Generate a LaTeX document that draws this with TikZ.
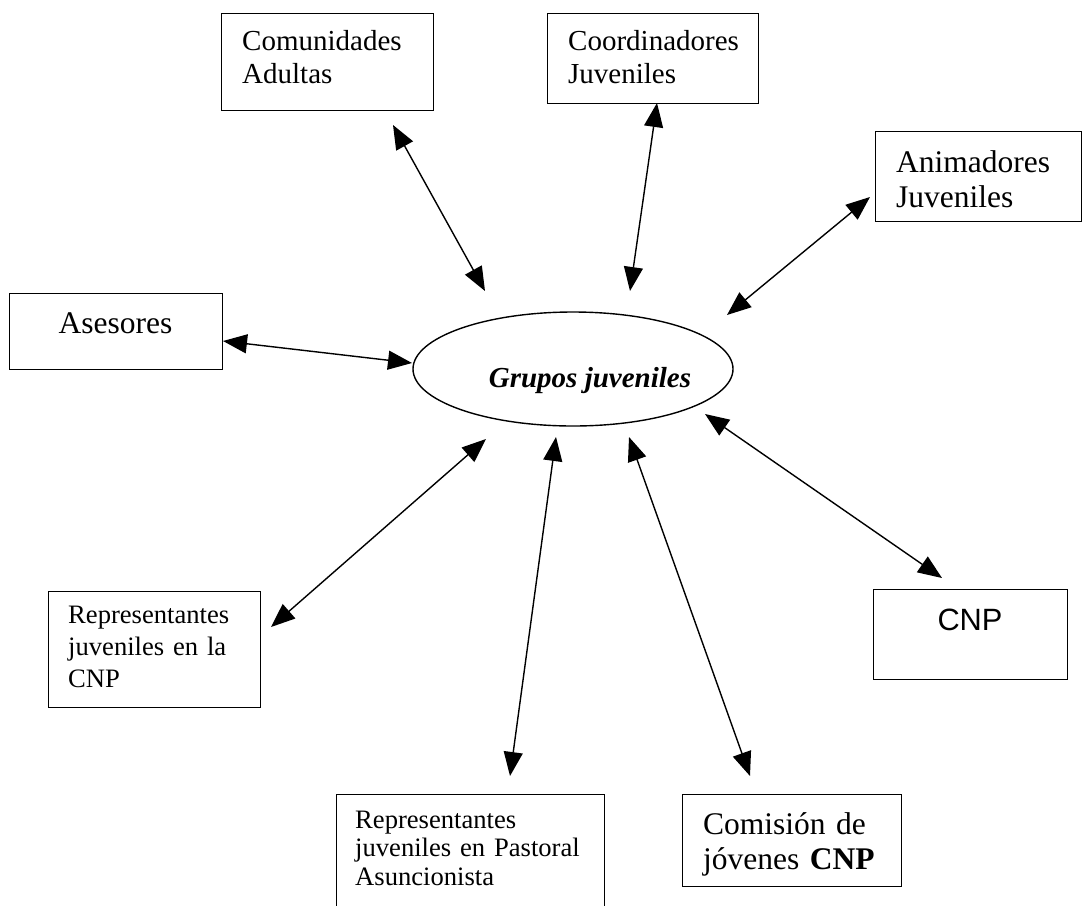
\documentclass[tikz,border=0pt]{standalone}
\usepackage{fontspec}
\setmainfont{Liberation Serif}
\newfontfamily\arialf{Liberation Sans}
\usetikzlibrary{arrows.meta,shapes.geometric}
\begin{document}
\begin{tikzpicture}[x=1pt,y=-1pt,
  boxnode/.style={draw,line width=1.4pt,rectangle,anchor=north west,inner sep=0pt},
  txt/.style={anchor=base west,inner sep=0pt,text width=#1,align=left},
  link/.style={line width=1.4pt,{Triangle[length=24pt,width=19pt]}-{Triangle[length=24pt,width=19pt]}},
  fa/.style={font=\fontsize{29}{33}\selectfont},
  fb/.style={font=\fontsize{31.5}{35.5}\selectfont},
  fc/.style={font=\fontsize{26.6}{32}\selectfont}]
\useasboundingbox (0,0) rectangle (1083,905);
% boxes
\node[boxnode,minimum width=212pt,minimum height=97pt] (com) at (221,13) {};
\node[txt=200pt,fa] (comt) at (242,50) {Comunidades\\Adultas};
\node[boxnode,minimum width=211pt,minimum height=90pt] (coo) at (547,13) {};
\node[txt=200pt,fa] (coot) at (568,50) {Coordinadores\\Juveniles};
\node[boxnode,minimum width=206pt,minimum height=90pt] (ani) at (875,131) {};
\node[txt=200pt,fb] (anit) at (896,172) {Animadores\\Juveniles};
\node[boxnode,minimum width=213pt,minimum height=76pt] (ase) at (9,293) {};
\node[anchor=base,inner sep=0pt,fb] (aset) at (115.5,333) {Asesores};
\node[draw,line width=1.4pt,ellipse,minimum width=320pt,minimum height=114pt,inner sep=0pt] (grp) at (573,369) {};
\node[anchor=base,inner sep=0pt,fa] (grpt) at (590,387) {\textbf{\textit{Grupos juveniles}}};
\node[boxnode,minimum width=212pt,minimum height=116pt] (rep) at (48,591) {};
\node[txt=200pt,fc] (rept) at (68,623) {Representantes\\juveniles en la\\CNP};
\node[boxnode,minimum width=194pt,minimum height=90pt] (cnp) at (873,589) {};
\node[anchor=base,inner sep=0pt,font=\arialf\fontsize{30.8}{35}\selectfont] (cnpt) at (970,630) {CNP};
\node[boxnode,minimum width=268pt,minimum height=140pt] (pas) at (336,794) {};
\node[txt=260pt,font=\fontsize{26.6}{28.5}\selectfont] (past) at (355,828) {Representantes\\juveniles en Pastoral\\Asuncionista};
\node[boxnode,minimum width=219pt,minimum height=92pt] (comi) at (682,794) {};
\node[txt=210pt,fb] (comit) at (703,834) {Comisión de\\jóvenes \textbf{CNP}};
% arrow end points
\coordinate (a1) at (393,125); \coordinate (b1) at (485,291);
\coordinate (a2) at (657,103); \coordinate (b2) at (630,291);
\coordinate (a3) at (870,197); \coordinate (b3) at (727,315);
\coordinate (a4) at (223,341); \coordinate (b4) at (412,363);
\coordinate (a5) at (271,627); \coordinate (b5) at (486,439);
\coordinate (a6) at (510,776); \coordinate (b6) at (556,437);
\coordinate (a7) at (750,776); \coordinate (b7) at (629,437);
\coordinate (a8) at (942,578); \coordinate (b8) at (705,414);
\foreach \i in {1,...,8} {\draw[link] (a\i) -- (b\i);}
\end{tikzpicture}
\end{document}
